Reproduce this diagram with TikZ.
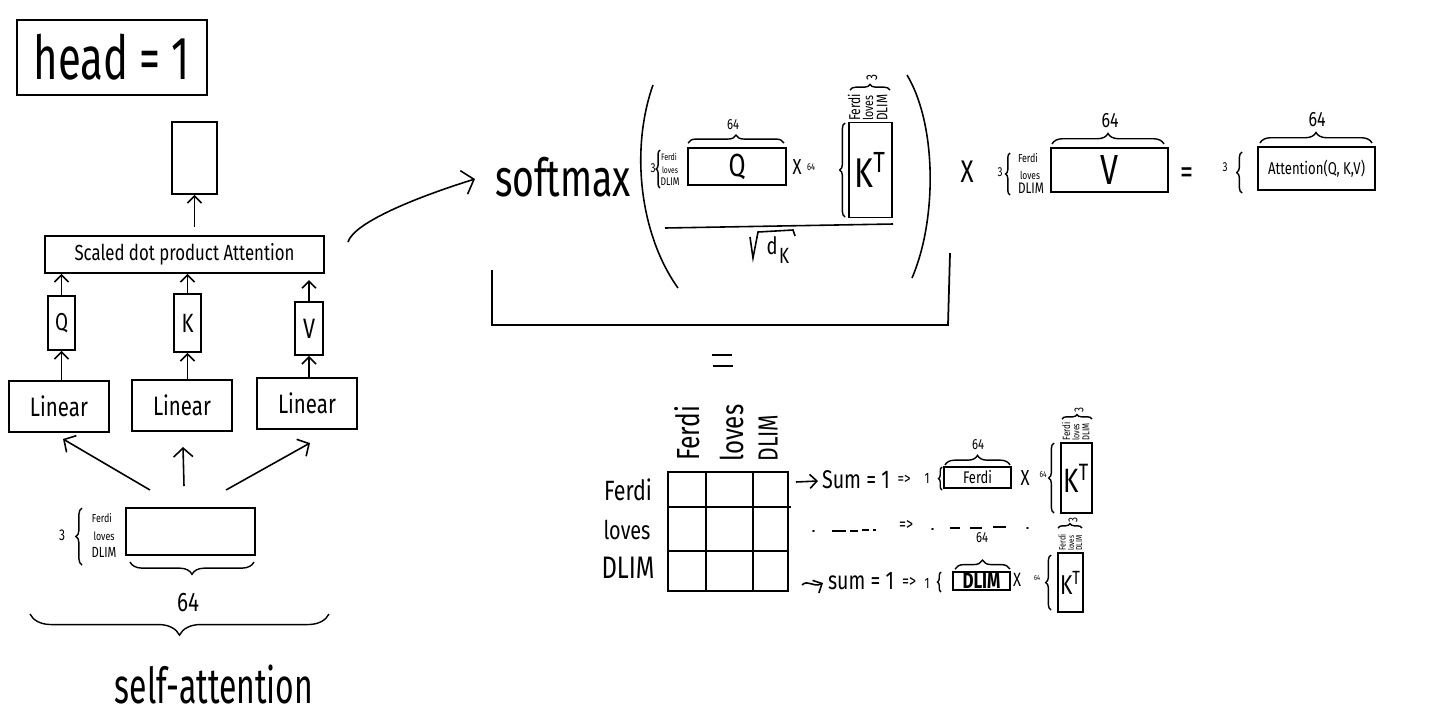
\documentclass[tikz,border=0pt]{standalone}
\usepackage{graphicx}
\usepackage{fontspec}
\setmainfont{Fira Sans}
\usetikzlibrary{arrows.meta,decorations.pathreplacing}
% one drawing unit = 0.02cm
\newlength\pxu \setlength\pxu{0.02cm}
% text of a given width (in drawing units), slightly stretched upwards
\newcommand\tw[3][1.3]{\resizebox{#2\pxu}{!}{\scalebox{1}[#1]{#3}}}
\begin{document}
\begin{tikzpicture}[x=0.02cm,y=-0.02cm,
  box/.style 2 args={draw, line width=1pt, minimum width=#1*0.02cm, minimum height=#2*0.02cm, inner sep=0pt},
  txt/.style={inner sep=0pt},
  vtxt/.style={inner sep=0pt, rotate=90, anchor=west},
  arr/.style={line width=0.9pt, -{Straight Barb[length=4pt,width=8pt]}},
  bigarr/.style={line width=0.9pt, -{Straight Barb[length=5pt,width=11pt]}},
  brc/.style={decorate, decoration={brace, amplitude=#1}, line width=0.8pt},
  ln/.style={line width=0.9pt}]
\fill[white] (0,0) rectangle (1437,721);
\useasboundingbox (0,0) rectangle (1437,721);

% ---------------- left: one attention head ----------------
\node[box={190}{75}] (head) at (112,57.5) {\tw[1.45]{156}{head = 1}};
\node[box={45}{72}] (out) at (194.5,158) {};
\node[box={279}{37}] (sdpa) at (184.5,254.5) {\tw{220}{Scaled dot product Attention}};
\draw[arr, shorten <=4.5pt] (out.south |- sdpa.north) -- (out.south);

\node[box={27}{54}] (q) at (61.5,323) {\tw{13}{Q}};
\node[box={27}{58}] (k) at (187.5,323) {\tw{12}{K}};
\node[box={28}{53}] (v) at (309,328.5) {\tw{12}{V}};
\draw[arr] (q.north) -- (q.north |- sdpa.south);
\draw[arr] (k.north) -- (k.north |- sdpa.south);
\draw[arr, shorten >=3.5pt] (v.north) -- (v.north |- sdpa.south);

\node[box={100}{51}] (l1) at (59,406.5) {\tw{58}{Linear}};
\node[box={100}{51}] (l2) at (182,405.5) {\tw{58}{Linear}};
\node[box={100}{51}] (l3) at (307,403.5) {\tw{58}{Linear}};
\draw[arr] (q.south |- l1.north) -- (q.south);
\draw[arr] (k.south |- l2.north) -- (k.south);
\draw[arr] (v.south |- l3.north) -- (v.south);

\node[box={129}{47}] (inp) at (190.5,531.5) {};
\node[txt] (inp3) at (62,535) {\tw{6}{3}};
\draw[brc=3.5pt] (82,565) -- (82,508);
\node[txt] (inpw1) at (102,518) {\tw{20}{Ferdi}};
\node[txt] (inpw2) at (104,536) {\tw{21}{loves}};
\node[txt] (inpw3) at (104,552) {\tw{25}{DLIM}};
\draw[brc=7pt] (254,562) -- (130,562);
\node[txt] (inp64) at (188,603) {\tw{22}{64}};

\coordinate (a1s) at (150,490); \coordinate (a1e) at (63,439);
\coordinate (a2s) at (184,486); \coordinate (a2e) at (183,447);
\coordinate (a3s) at (226,490); \coordinate (a3e) at (310,443);
\draw[bigarr] (a1s) -- (a1e);
\draw[bigarr] (a2s) -- (a2e);
\draw[bigarr] (a3s) -- (a3e);

\draw[brc=12pt] (329,614) -- (30,614);
\node[txt] (selfatt) at (214,684) {\tw[1.55]{198}{self-attention}};

% ---------------- softmax formula ----------------
\coordinate (c1) at (348,242);
\coordinate (c2) at (475,179);
\draw[line width=0.9pt, -{Straight Barb[length=6pt,width=14pt]}] (c1) .. controls (354,222) and (420,196) .. (c2);

\node[txt] (sm) at (563,177) {\tw[1.4]{136}{softmax}};
\draw[ln] (653,85) .. controls (630,150) and (640,235) .. (678,288);
\draw[ln] (907,75) .. controls (937,125) and (937,220) .. (912,278);

\node[txt] (q3) at (653,168) {\tw{5}{3}};
\draw[brc=2.2pt] (660,188) -- (660,150);
\node[txt] (qw1) at (669,157) {\tw{16}{Ferdi}};
\node[txt] (qw2) at (670,170) {\tw{16}{loves}};
\node[txt] (qw3) at (670,182) {\tw{19}{DLIM}};
\node[box={98}{37}] (qq) at (737,166.5) {\tw{17}{Q}};
\draw[brc=4.5pt] (688,143) -- (784,143);
\node[txt] (q64) at (733,125) {\tw{12}{64}};

\node[txt] (x1) at (797,167) {\tw{9}{X}};
\node[txt] (k64) at (811,167) {\tw{8}{64}};
\draw[brc=3pt] (845,217) -- (845,123);
\node[box={43}{95}] (kt) at (870.5,170) {\tw{32}{K\textsuperscript{T}}};
\node[vtxt] (ktw1) at (854,121) {\tw{27}{Ferdi}};
\node[vtxt] (ktw2) at (868,121) {\tw{25}{loves}};
\node[vtxt] (ktw3) at (882,121) {\tw{26}{DLIM}};
\draw[brc=3.2pt] (850,90) -- (890,90);
\node[txt, rotate=90] (kt3) at (872,77) {\tw{6}{3}};

\draw[ln] (665,228) -- (893,224);
\draw[ln] (750,237) -- (753,258) -- (758,232) -- (793,230) -- (795,236);
\node[txt] (dd) at (772,246) {\tw{11}{d}};
\node[txt] (dk) at (784,256) {\tw{10}{K}};

\draw[line width=1pt] (492,270) -- (492,325) -- (948,325) -- (950,253);

% ---------------- times V equals attention ----------------
\node[txt] (x2) at (967,172) {\tw{13}{X}};
\node[txt] (v3) at (1000,172) {\tw{5}{3}};
\draw[brc=2.5pt] (1010,195) -- (1010,153);
\node[txt] (vw1) at (1028,158) {\tw{20}{Ferdi}};
\node[txt] (vw2) at (1030,175) {\tw{20}{loves}};
\node[txt] (vw3) at (1031,188) {\tw{26}{DLIM}};
\node[box={117}{44}] (vv) at (1109.5,170) {\tw{18}{V}};
\draw[brc=6pt] (1052,144) -- (1164,144);
\node[txt] (v64) at (1110,121) {\tw{17}{64}};

\node[txt] (eq1) at (1187,176) {\tw{13}{=}};
\node[txt] (a3) at (1225,167) {\tw{5}{3}};
\draw[brc=3pt] (1242,193) -- (1242,152);
\node[box={117}{43}] (att) at (1316.5,168.5) {\tw{97}{Attention(Q, K,V)}};
\draw[brc=6pt] (1260,143) -- (1372,143);
\node[txt] (a64) at (1317,120) {\tw{17}{64}};

% ---------------- score matrix ----------------
\draw[ln] (712,355) -- (732,355);
\draw[ln] (713,366) -- (733,366);

\node[box={120}{119}] (grid) at (728,531.5) {};
\draw[ln] (706,472) -- (706,591);
\draw[ln] (753,472) -- (753,591);
\draw[ln] (668,507) -- (791,507);
\draw[ln] (668,551) -- (789,551);

\node[vtxt] (cw1) at (687,461) {\tw{55}{Ferdi}};
\node[vtxt] (cw2) at (732,462) {\tw{57}{loves}};
\node[vtxt] (cw3) at (768,462) {\tw{47}{DLIM}};
\node[txt] (rw1) at (628,490) {\tw{48}{Ferdi}};
\node[txt] (rw2) at (627,530) {\tw{47}{loves}};
\node[txt] (rw3) at (628,568) {\tw{53}{DLIM}};

% first row
\coordinate (r1s) at (796,482); \coordinate (r1e) at (818,481);
\draw[arr] (r1s) -- (r1e);
\node[txt] (s1) at (856,480) {\tw{68}{Sum = 1}};
\node[txt] (im1) at (904,480) {\tw{13}{=>}};
\node[txt] (o1) at (927,478) {\tw{5}{1}};
\draw[brc=2pt] (942,490) -- (942,467);
\node[box={67}{21}] (fb) at (977.5,477.5) {\tw{29}{Ferdi}};
\draw[brc=5.5pt] (945,465) -- (1010,465);
\node[txt] (f64) at (978,445) {\tw{12}{64}};
\node[txt] (x3) at (1025,478) {\tw{9}{X}};
\node[txt] (f64b) at (1043,475) {\tw{7}{64}};
\draw[brc=3pt] (1054,513) -- (1054,443);
\node[box={31}{70}] (kt1) at (1076.5,478) {\tw{26}{K\textsuperscript{T}}};
\node[vtxt] (k1w1) at (1066,441) {\tw{18}{Ferdi}};
\node[vtxt] (k1w2) at (1076,441) {\tw{17}{loves}};
\node[vtxt] (k1w3) at (1086,441) {\tw{17}{DLIM}};
\draw[brc=2.5pt] (1062,419) -- (1092,419);
\node[txt, rotate=90] (k13) at (1079,410) {\tw{5}{3}};

% elided rows
\draw[ln, line cap=round] (813,531) -- (814,531);
\draw[ln] (832,531) -- (846,531);
\draw[ln] (850,531) -- (858,531);
\draw[ln] (862,530) -- (869,530);
\draw[ln] (873,530) -- (876,530);
\node[txt] (im2) at (906,525) {\tw{14}{=>}};
\draw[ln, line cap=round] (932,529) -- (933,529);
\draw[ln] (950,528) -- (960,528);
\draw[ln] (970,528) -- (982,528);
\draw[ln] (993,527) -- (1006,527);
\draw[ln, line cap=round] (1027,528) -- (1028,528);

% last row
\coordinate (r3s) at (802,585); \coordinate (r3e) at (823,583);
\draw[arr] (r3s) .. controls (808,579) and (813,588) .. (r3e);
\node[txt] (s3) at (861,581) {\tw{66}{sum = 1}};
\node[txt] (im3) at (909,582) {\tw{14}{=>}};
\node[txt] (o3) at (927,583) {\tw{5}{1}};
\draw[brc=2pt] (941,592) -- (941,572);
\node[box={57}{18}] (db) at (981.5,581) {\tw{38}{\bfseries DLIM}};
\draw[brc=5pt] (955,569) -- (1010,569);
\node[txt] (d64) at (982,538) {\tw{12}{64}};
\node[txt] (x4) at (1017,580) {\tw{8}{X}};
\node[txt] (d64b) at (1037,578) {\tw{6}{64}};
\draw[brc=3pt] (1051,610) -- (1051,555);
\node[box={25}{59}] (kt3b) at (1070.5,582.5) {\tw{21}{K\textsuperscript{T}}};
\node[vtxt] (k3w1) at (1062,551) {\tw{16}{Ferdi}};
\node[vtxt] (k3w2) at (1071,551) {\tw{15}{loves}};
\node[vtxt] (k3w3) at (1079,551) {\tw{15}{DLIM}};
\draw[brc=2.5pt] (1058,528) -- (1082,528);
\node[txt, rotate=90] (k33) at (1073,520) {\tw{5}{3}};
\end{tikzpicture}
\end{document}
